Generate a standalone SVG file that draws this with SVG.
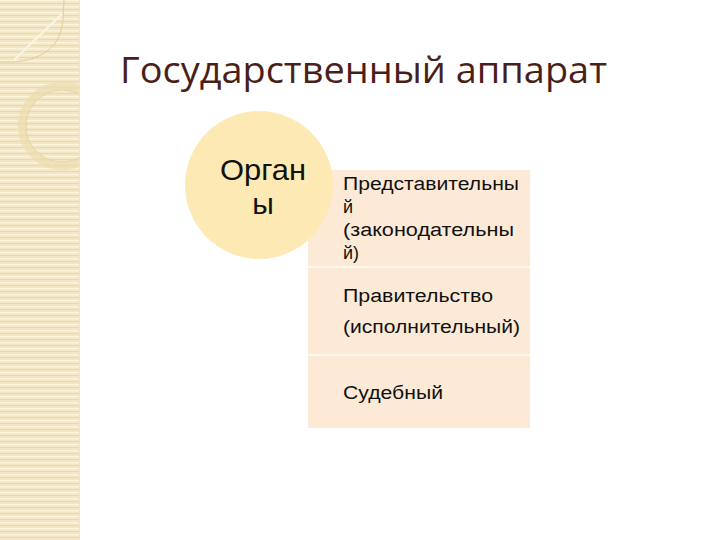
<svg xmlns="http://www.w3.org/2000/svg" width="720" height="540" viewBox="0 0 720 540">
<defs>
<pattern id="stripes" x="0" y="0" width="80" height="6" patternUnits="userSpaceOnUse">
<rect width="80" height="6" fill="#f3e6c3"/>
<rect y="0" width="80" height="1.5" fill="#fbf3de"/>
<rect y="3" width="80" height="1" fill="#ead9b0"/>
</pattern>
<clipPath id="stripClip"><rect x="0" y="0" width="79" height="540"/></clipPath>
<style>
.title{font-family:"Open Sans","Noto Sans",sans-serif;font-size:36px;fill:#4a1f1a}
.circ{font-family:"Liberation Sans",Arial,sans-serif;font-size:30px;fill:#111}
.item{font-family:"Liberation Sans",Arial,sans-serif;font-size:18px;fill:#111}
</style>
</defs>
<rect width="720" height="540" fill="#ffffff"/>
<g id="sidebar">
<rect x="0" y="0" width="80" height="540" fill="url(#stripes)"/>
<line x1="79.5" y1="0" x2="79.5" y2="540" stroke="#eee3c6" stroke-width="1"/>
<g clip-path="url(#stripClip)">
<path d="M0 62 L14 62 Q60 58 63 20 L64 0" fill="none" stroke="#e0cca2" stroke-width="1"/>
<path d="M14 60 L62 14" fill="none" stroke="#fbf5e6" stroke-width="2"/>
<circle cx="62" cy="126" r="40" fill="none" stroke="#ecdcae" stroke-width="8" opacity="0.7"/>
<circle cx="62" cy="126" r="36" fill="none" stroke="#e2cfa0" stroke-width="1" opacity="0.8"/>
</g>
</g>
<g id="title">
<text class="title" x="120" y="83" textLength="487" lengthAdjust="spacingAndGlyphs">Государственный аппарат</text>
</g>
<g id="list">
<rect x="308" y="170" width="222" height="258" fill="#fdead6"/>
<line x1="308" y1="267" x2="530" y2="267" stroke="#fff6ec" stroke-width="2"/>
<line x1="308" y1="355" x2="530" y2="355" stroke="#fff6ec" stroke-width="2"/>
<text class="item" x="343" y="190" textLength="176" lengthAdjust="spacingAndGlyphs">Представительны</text>
<text class="item" x="343" y="213">й</text>
<text class="item" x="343" y="236" textLength="171" lengthAdjust="spacingAndGlyphs">(законодательны</text>
<text class="item" x="343" y="259">й)</text>
<text class="item" x="343" y="302" textLength="150" lengthAdjust="spacingAndGlyphs">Правительство</text>
<text class="item" x="343" y="333" textLength="177" lengthAdjust="spacingAndGlyphs">(исполнительный)</text>
<text class="item" x="343" y="399" textLength="100" lengthAdjust="spacingAndGlyphs">Судебный</text>
</g>
<g id="organs">
<circle cx="259" cy="185" r="74" fill="#fde9b4"/>
<text class="circ" x="220" y="180" textLength="86" lengthAdjust="spacingAndGlyphs">Орган</text>
<text class="circ" x="263" y="214" text-anchor="middle">ы</text>
</g>
</svg>
